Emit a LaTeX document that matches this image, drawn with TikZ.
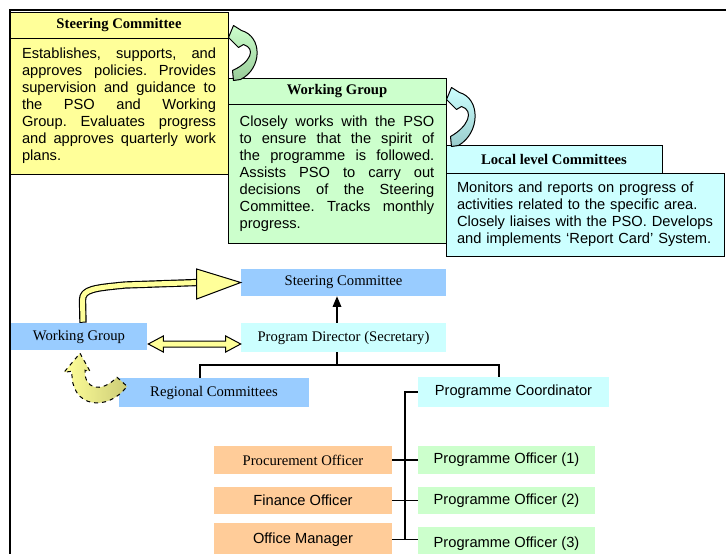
\documentclass[tikz,border=0pt]{standalone}
\usepackage{fontspec}
\setmainfont{Liberation Serif}
\newfontfamily\arialf{Liberation Sans}
\usetikzlibrary{calc,arrows.meta}
\definecolor{cYel}{HTML}{FFFF99}
\definecolor{cGrn}{HTML}{CCFFCC}
\definecolor{cGrnD}{HTML}{99CC99}
\definecolor{cCyan}{HTML}{CCFFFF}
\definecolor{cCyanD}{HTML}{99CCCC}
\definecolor{cBlue}{HTML}{99CCFF}
\definecolor{cOrg}{HTML}{FFCC99}
\definecolor{cOlive}{HTML}{CCCC77}
\frenchspacing
% #1 style, #2 name, #3 x1, #4 y1, #5 x2, #6 y2 (pixel units), #7 text
\newcommand\boxat[7]{%
  \pgfmathsetmacro\bxw{(#5-#3)*0.75}%
  \pgfmathsetmacro\bxh{(#6-#4)*0.75}%
  \node[#1,minimum width=\bxw pt,minimum height=\bxh pt] (#2) at ({(#3+#5)/2},{(#4+#6)/2}) {#7};}
\begin{document}
\begin{tikzpicture}[x=0.75pt,y=-0.75pt,
  hdr/.style={draw=black,line width=0.75pt,inner sep=0pt,font=\fontsize{11}{13}\selectfont\bfseries},
  body/.style={draw=black,line width=0.75pt,inner sep=0pt,font=\arialf\fontsize{11}{12.75}\selectfont\frenchspacing},
  obox/.style={inner sep=0pt,font=\fontsize{11}{13}\selectfont},
  sbox/.style={inner sep=0pt,font=\arialf\fontsize{11}{13}\selectfont},
  conn/.style={line width=0.9pt,black},
  bendarrow/.style={draw=black,line width=0.75pt,line join=round},
  yarrow/.style={draw=black,line width=0.75pt,fill=cYel,line join=miter}]
\useasboundingbox (0,0) rectangle (726,554);

% ---------- top description boxes ----------
\boxat{hdr,fill=cYel}{sch}{10}{12}{228}{38}{Steering Committee}
\boxat{body,fill=cYel,text width=145.5pt,align=justify}{scb}{10}{38}{228}{174}%
 {Establishes, supports, and\linebreak approves policies. Provides\linebreak supervision and guidance to\linebreak the PSO and Working\linebreak Group. Evaluates progress\linebreak and approves quarterly work\linebreak plans.}

\boxat{hdr,fill=cGrn}{wgh}{228}{78}{446}{104}{Working Group}
\boxat{body,fill=cGrn,text width=146pt,align=justify}{wgb}{228}{104}{446}{243}%
 {Closely works with the PSO\linebreak to ensure that the spirit of\linebreak the programme is followed.\linebreak Assists PSO to carry out\linebreak decisions of the Steering\linebreak Committee. Tracks monthly\linebreak progress.}

\boxat{hdr,fill=cCyan}{llh}{446}{145}{662}{173}{Local level Committees}
\boxat{body,fill=cCyan,text width=192pt,align=left}{llb}{446}{173}{724}{256}%
 {Monitors and reports on progress of\\activities related to the specific area.\\Closely liaises with the PSO. Develops\\and implements ‘Report Card’ System.}

% curved arrows between description boxes
\begin{scope}[shift={(sch.south east)}]
\draw[bendarrow,top color=cGrn,bottom color=cGrnD]
 (0,-1) -- (5,-13) -- (13,-8) .. controls (34,-2) and (34,30) .. (12,41)
 -- (5,42) -- (4,32) .. controls (22,24) and (28,10) .. (15,6) -- (10,9) -- cycle;
\end{scope}
\begin{scope}[shift={($(wgh.south east)+(0,-4)$)}]
\draw[bendarrow,top color=cCyan,bottom color=cCyanD]
 (0,-1) -- (5,-13) -- (13,-8) .. controls (34,-2) and (34,32) .. (12,45)
 -- (5,46) -- (4,36) .. controls (22,26) and (28,10) .. (15,6) -- (10,9) -- cycle;
\end{scope}

% ---------- organisation chart ----------
\boxat{obox,fill=cBlue}{sc2}{241}{269}{446}{296}{Steering Committee}
\boxat{obox,fill=cCyan}{pd}{241}{323}{446}{352}{Program Director (Secretary)}
\boxat{obox,fill=cBlue}{wg2}{11}{323}{147}{350}{Working Group}
\boxat{obox,fill=cBlue}{rc}{119}{378}{309}{407}{Regional Committees}
\boxat{sbox,fill=cCyan}{pc}{418}{377}{609}{407}{Programme Coordinator}
\boxat{obox,fill=cOrg}{proc}{214}{446}{392}{474}{Procurement Officer}
\boxat{sbox,fill=cOrg}{fin}{214}{487}{392}{514}{Finance Officer}
\boxat{sbox,fill=cOrg}{om}{214}{523}{392}{556}{Office Manager}
\boxat{sbox,fill=cGrn}{po1}{418}{446}{595}{474}{Programme Officer (1)}
\boxat{sbox,fill=cGrn}{po2}{418}{487}{595}{514}{Programme Officer (2)}
\boxat{sbox,fill=cGrn}{po3}{418}{527}{595}{560}{Programme Officer (3)}

\coordinate (jL) at (200,365);
\coordinate (jM) at (337,365);
\coordinate (jR) at (499,365);
\coordinate (tk) at (405,392);

\draw[conn,-{Triangle[length=8pt,width=6.5pt]}] (jM |- pd.north) -- (jM |- sc2.south);
\draw[conn] (jM |- pd.south) -- (jM);
\draw[conn] (jL |- rc.north) -- (jL) -- (jR) -- (jR |- pc.north);
\draw[conn] (pc.west) -- (pc.west -| tk) -- (tk |- om.east) -- (om.east);
\draw[conn] (om.east) -- (po3.west |- om.east);
\draw[conn] (proc.east) -- (po1.west);
\draw[conn] (fin.east) -- (po2.west);

% yellow block arrow Working Group -> Steering Committee
\draw[line width=5.5pt,black,line join=round]
 ($(wg2.north)+(4,0)$) -- (82.5,300) .. controls (82.5,289) and (95,288) .. (125,285) -- ($(sc2.west)+(-43,0)$);
\draw[line width=3.75pt,cYel,line join=round]
 ($(wg2.north)+(4,-1)$) -- (82.5,300) .. controls (82.5,289) and (95,288) .. (125,285) -- ($(sc2.west)+(-42,0)$);
\draw[yarrow] ($(sc2.west)+(-44,-13.5)$) -- (sc2.west) -- ($(sc2.west)+(-44,16.5)$) -- cycle;

% yellow double arrow Working Group <-> Program Director
\coordinate (dl) at ($(wg2.east)+(1,7.5)$);
\coordinate (dr) at ($(pd.west |- dl)$);
\draw[yarrow] (dl) -- ++(15,-8) -- ++(0,5) -- ($(dr)+(-15,-3)$) -- ++(0,-5) -- (dr)
 -- ++(-15,8) -- ++(0,-5) -- ($(dl)+(15,3)$) -- ++(0,5) -- cycle;

% dashed curved arrow Regional Committees -> Working Group
\begin{scope}[shift={(wg2.south)}]
\draw[draw=black,line width=0.75pt,dashed,left color=cYel,right color=cOlive]
 (1,3) -- (11,21) -- (6,20) .. controls (5,38) and (21,44) .. (38,27)
 -- (48,36) .. controls (29,62) and (-9,58) .. (-7,21) -- (-15,22) -- cycle;
\end{scope}

% frame
\draw[line width=1.9pt] (10,554) -- (10,10) -- (726,10);
\end{tikzpicture}
\end{document}
